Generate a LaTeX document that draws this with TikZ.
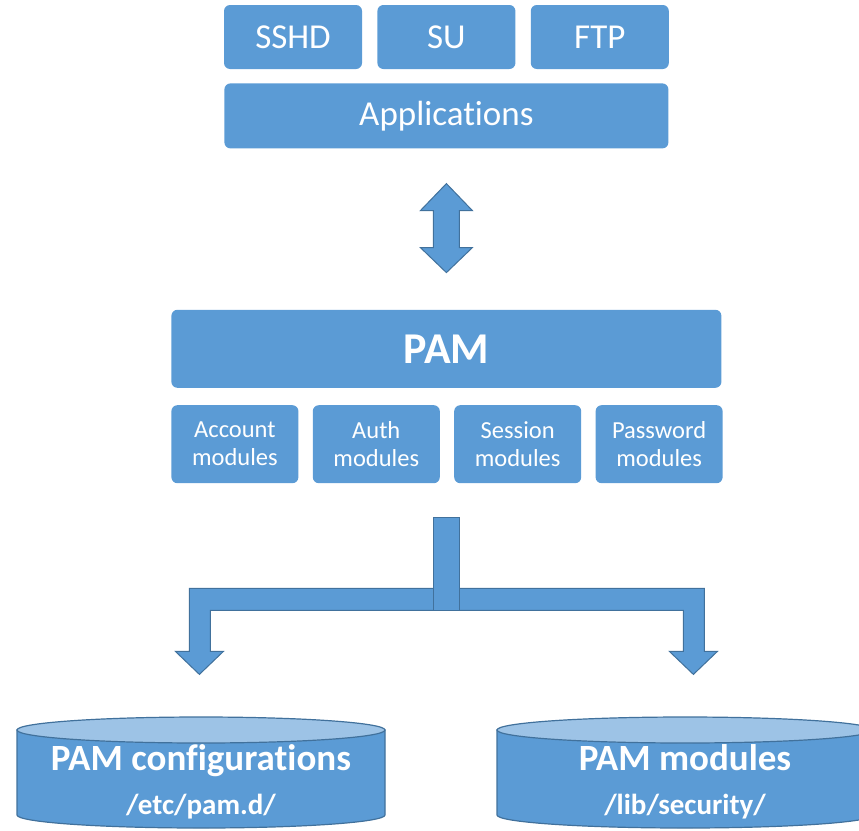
\documentclass[tikz,border=0pt]{standalone}
\usepackage{fontspec}
\setmainfont[Ligatures=NoCommon]{Carlito}
\usetikzlibrary{positioning,calc}
\definecolor{pamblue}{HTML}{5B9BD5}
\definecolor{pamedge}{HTML}{41719C}
\definecolor{pamtop}{HTML}{9DC3E6}
\begin{document}
\begin{tikzpicture}[x=1pt, y=-1pt,
  box/.style={fill=pamblue, rounded corners=6pt, text=white, inner sep=0pt, align=center},
  appbox/.style={box, minimum width=138pt, minimum height=64pt, font=\fontsize{35}{40}\selectfont},
  modbox/.style={box, minimum width=127pt, minimum height=78pt, font=\fontsize{24.5}{28}\selectfont},
  fat/.style={fill=pamblue, draw=pamedge, line width=1pt, line join=miter},
  cyl/.style={fill=pamblue, draw=pamedge, line width=1.2pt},
  cyltop/.style={fill=pamtop, draw=pamedge, line width=1.2pt},
  cyllab/.style={text=white, align=center, inner sep=0pt, font=\bfseries\fontsize{37}{44}\selectfont}]
  \useasboundingbox (0,0) rectangle (859,830);
  \node[appbox] (sshd) at (293,37) {SSHD};
  \node[appbox, right=15pt of sshd] (su) {SU};
  \node[appbox, right=15pt of su] (ftp) {FTP};
  \node[box, minimum width=444pt, minimum height=65pt, font=\fontsize{35}{40}\selectfont, below=14pt of su] (apps) {Applications};
  \node[box, minimum width=550pt, minimum height=78pt, font=\bfseries\fontsize{44}{50}\selectfont, below=161pt of apps] (pam) {PAM};
  \node[modbox, below right=17pt and 0pt of pam.south west] (acct) {Account\\modules};
  \node[modbox, right=14pt of acct] (auth) {Auth\\modules};
  \node[modbox, right=14pt of auth] (sess) {Session\\modules};
  \node[modbox, right=14pt of sess] (pwd) {Password\\modules};
  \coordinate (up) at ($(apps.south)+(0,35)$);
  \draw[fat] (up) -- ++(26,27) -- ++(-13,0) -- ++(0,37) -- ++(13,0) -- ++(-26,25)
    -- ++(-26,-25) -- ++(13,0) -- ++(0,-37) -- ++(-13,0) -- cycle;
  \coordinate (fork) at ($(pam.south |- acct.south)+(0,34)$);
  \draw[fat] ($(fork)+(-257,71)$) -- ++(515,0) -- ++(0,63) -- ++(13,0) -- ++(-24,23) -- ++(-24,-23)
    -- ++(14,0) -- ++(0,-41) -- ++(-473,0) -- ++(0,41) -- ++(13,0) -- ++(-24,23) -- ++(-24,-23)
    -- ++(14,0) -- cycle;
  \draw[fat] ($(fork)+(-13,0)$) rectangle ++(26,93);
  \foreach \cx/\rx in {201/184, 685/188} {
    \draw[cyl] (\cx-\rx,730) -- (\cx-\rx,815) arc[start angle=180, end angle=0, x radius=\rx, y radius=13]
      -- (\cx+\rx,730) -- cycle;
    \draw[cyltop] (\cx,730) ellipse [x radius=\rx, y radius=13];
  }
  \node[cyllab] (conf) at (201,782) {PAM configurations\\{\fontsize{29}{44}\selectfont /etc/pam.d/}};
  \node[cyllab] (libs) at (685,782) {PAM modules\\{\fontsize{29}{44}\selectfont /lib/security/}};
\end{tikzpicture}
\end{document}
